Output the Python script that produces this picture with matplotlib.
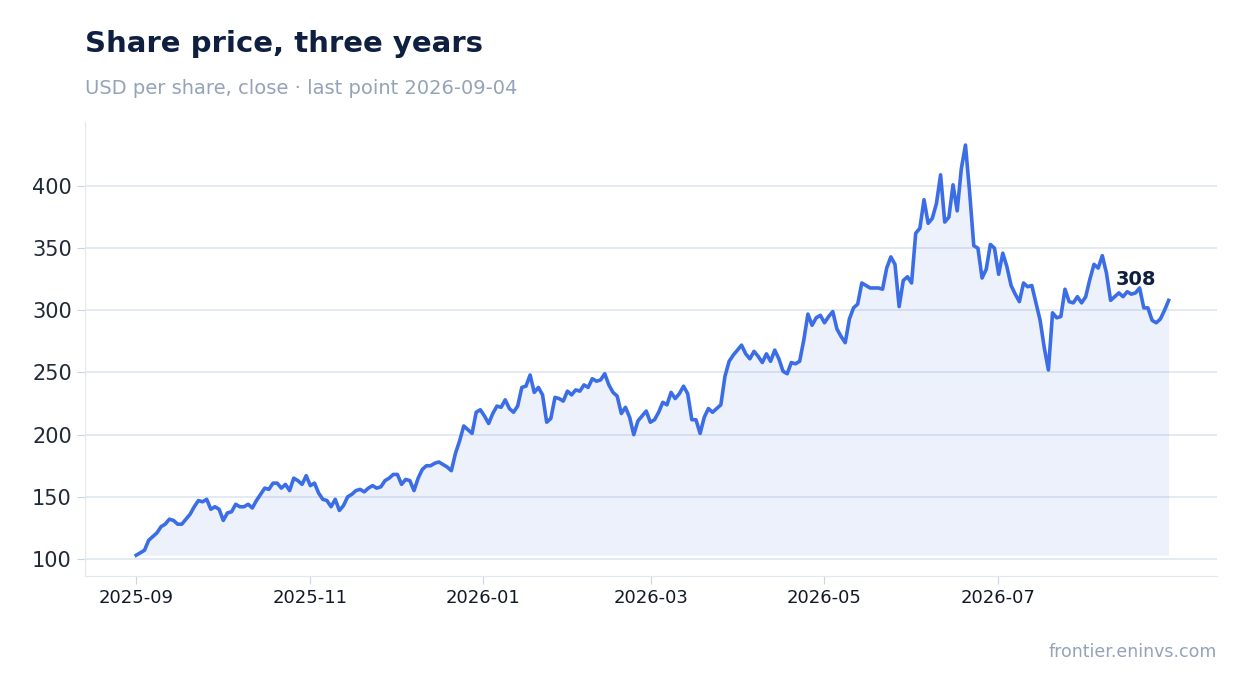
import numpy as np
import pandas as pd
import matplotlib
matplotlib.use("Agg")
import matplotlib.pyplot as plt
import matplotlib.dates as mdates

# closing prices (roughly evenly spaced in time)
prices = [103, 105, 107, 115, 118, 121, 126, 128, 132, 131, 128, 128, 132, 136, 142, 147, 146, 148,
          140, 142, 140, 131, 137, 138, 144, 142, 142, 144, 141, 147, 152, 157, 156, 161, 161, 157,
          160, 155, 165, 163, 160, 167, 159, 161, 153, 148, 147, 142, 148, 139, 143, 150, 152, 155,
          156, 154, 157, 159, 157, 158, 163, 165, 168, 168, 160, 164, 163, 155, 165, 172, 175, 175,
          177, 178, 176, 174, 171, 185, 195, 207, 204, 201, 218, 220, 215, 209, 217, 223, 222, 228,
          221, 218, 223, 238, 239, 248, 234, 238, 232, 210, 213, 230, 229, 227, 235, 232, 236, 235,
          240, 238, 245, 243, 244, 249, 240, 234, 231, 217, 222, 214, 200, 211, 215, 219, 210, 212,
          218, 226, 224, 234, 229, 233, 239, 233, 212, 212, 201, 214, 221, 218, 221, 224, 247, 259,
          264, 268, 272, 265, 261, 267, 263, 258, 265, 259, 268, 261, 251, 249, 258, 257, 259, 276,
          297, 288, 294, 296, 290, 295, 299, 285, 279, 274, 293, 302, 305, 322, 320, 318, 318, 318,
          317, 334, 343, 337, 303, 324, 327, 322, 362, 366, 389, 370, 374, 386, 409, 371, 375, 401,
          380, 414, 433, 395, 352, 350, 326, 333, 353, 350, 329, 346, 335, 320, 313, 307, 322, 319,
          320, 306, 292, 270, 252, 298, 294, 295, 317, 307, 306, 311, 306, 311, 325, 337, 334, 344,
          330, 308, 311, 314, 311, 315, 313, 314, 318, 302, 302, 292, 290, 293, 300, 308]
dates = pd.date_range("2025-09-01", "2026-08-30", periods=len(prices))
tick_dates = pd.to_datetime(["2025-09-01", "2025-11-01", "2026-01-01",
                             "2026-03-01", "2026-05-01", "2026-07-01"])

line_col = "#3b6ee6"
navy = "#0f1f40"
grey = "#94a3b8"

fig = plt.figure(figsize=(12.47, 6.93), dpi=100)
ax = fig.add_axes([85 / 1247, 1 - 576 / 693, 1132 / 1247, 454 / 693])

ax.fill_between(dates, prices, min(prices), color=line_col, alpha=0.09, lw=0)
ax.plot(dates, prices, color=line_col, lw=2.6)

ax.set_xlim(pd.Timestamp("2025-08-14"), pd.Timestamp("2026-09-16"))
ax.set_ylim(86.3, 451.5)
ax.set_yticks([100, 150, 200, 250, 300, 350, 400])
ax.set_xticks(tick_dates)
ax.xaxis.set_major_formatter(mdates.DateFormatter("%Y-%m"))
ax.tick_params(axis="y", labelsize=15, colors="#1f2937", length=6, color="#cbd5e1")
ax.tick_params(axis="x", labelsize=13, colors="#111827", length=6, color="#cbd5e1")
ax.grid(axis="y", color="#e2e8f0", lw=1.3)
ax.set_axisbelow(True)
for s in ["top", "right"]:
    ax.spines[s].set_visible(False)
for s in ["left", "bottom"]:
    ax.spines[s].set_color("#e2e8f0")

ax.annotate(f"{prices[-1]}", (dates[-1], prices[-1]), xytext=(-33, 21),
            textcoords="offset points" if False else "offset pixels",
            ha="center", va="center", fontsize=14, fontweight="bold", color=navy)

fig.text(85 / 1247, 1 - 44 / 693, "Share price, three years", fontsize=21,
         fontweight="bold", color=navy, va="center")
fig.text(85 / 1247, 1 - 88 / 693, "USD per share, close · last point 2026-09-04",
         fontsize=14, color=grey, va="center")
fig.text(1217 / 1247, 1 - 652 / 693, "frontier.eninvs.com", fontsize=12.5,
         color=grey, ha="right", va="center")

fig.savefig("out.png", dpi=100)
